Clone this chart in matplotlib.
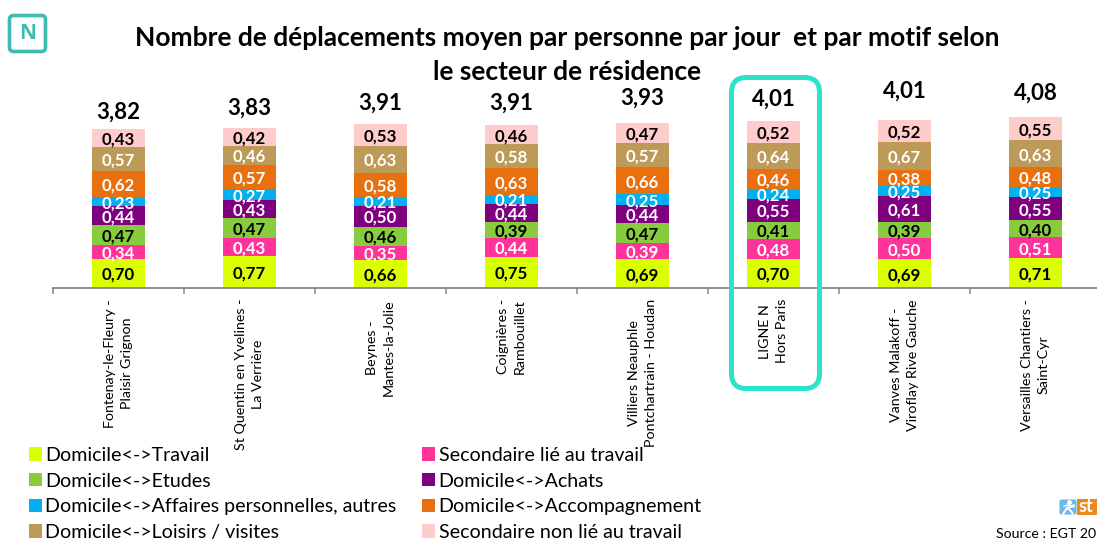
import matplotlib
matplotlib.use("Agg")
import matplotlib.pyplot as plt
import numpy as np
from matplotlib.patches import FancyBboxPatch, Rectangle

plt.rcParams['font.family'] = ['Lato', 'DejaVu Sans']

sectors = ["Fontenay-le-Fleury -\nPlaisir Grignon", "St Quentin en Yvelines -\nLa Verrière",
           "Beynes -\nMantes-la-Jolie", "Coignières -\nRambouillet",
           "Villiers Neauphle\nPontchartrain - Houdan", "LIGNE N\nHors Paris",
           "Vanves Malakoff -\nViroflay Rive Gauche", "Versailles Chantiers -\nSaint-Cyr"]
totals = [3.82, 3.83, 3.91, 3.91, 3.93, 4.01, 4.01, 4.08]
travail = [0.70, 0.77, 0.66, 0.75, 0.69, 0.70, 0.69, 0.71]
sec_travail = [0.34, 0.43, 0.35, 0.44, 0.39, 0.48, 0.50, 0.51]
etudes = [0.47, 0.47, 0.46, 0.39, 0.47, 0.41, 0.39, 0.40]
achats = [0.44, 0.43, 0.50, 0.44, 0.44, 0.55, 0.61, 0.55]
affaires = [0.23, 0.27, 0.21, 0.21, 0.25, 0.24, 0.25, 0.25]
accomp = [0.62, 0.57, 0.58, 0.63, 0.66, 0.46, 0.38, 0.48]
loisirs = [0.57, 0.46, 0.63, 0.58, 0.57, 0.64, 0.67, 0.63]
sec_non = [0.43, 0.42, 0.53, 0.46, 0.47, 0.52, 0.52, 0.55]

series = [
    ("Domicile<->Travail", travail, "#DAFF00", "black"),
    ("Secondaire lié au travail", sec_travail, "#FF3399", "white"),
    ("Domicile<->Etudes", etudes, "#86CC3C", "black"),
    ("Domicile<->Achats", achats, "#7F007F", "white"),
    ("Domicile<->Affaires personnelles, autres", affaires, "#00B0F0", "white"),
    ("Domicile<->Accompagnement", accomp, "#E8700F", "white"),
    ("Domicile<->Loisirs / visites", loisirs, "#BD9A57", "white"),
    ("Secondaire non lié au travail", sec_non, "#FFCCCC", "black"),
]
# vertical gap between bar top and the total label, in data units
total_gaps = [0.45, 0.53, 0.55, 0.57, 0.65, 0.57, 0.74, 0.62]

W, H = 1097, 541
fig = plt.figure(figsize=(W / 100, H / 100), dpi=100)
base_px, left_px, step_px = 288, 53, 131
ax = fig.add_axes([left_px / W, 1 - base_px / H, step_px * len(sectors) / W, base_px / H])
ax.patch.set_alpha(0)
ppu = 41.8
ax.set_ylim(0, base_px / ppu)
ax.set_xlim(0, len(sectors))
x = np.arange(len(sectors)) + 0.5
bar_w = 53 / step_px

bottom = np.zeros(len(sectors))
handles = {}
for name, vals, col, tcol in series:
    vals = np.array(vals)
    b = ax.bar(x, vals, bar_w, bottom=bottom, color=col, label=name, linewidth=0)
    handles[name] = b
    for xi, bi, v in zip(x, bottom, vals):
        ax.text(xi, bi + v / 2, f"{v:.2f}".replace(".", ","), ha="center", va="center_baseline",
                color=tcol, fontsize=12.2, fontweight="bold")
    bottom += vals
for xi, top, g, t in zip(x, bottom, total_gaps, totals):
    ax.text(xi, top + g, f"{t:.2f}".replace(".", ","), ha="center", va="center_baseline",
            fontsize=16, fontweight="bold", color="black")

for s in ("top", "left", "right"):
    ax.spines[s].set_visible(False)
ax.spines["bottom"].set_color("#868686")
ax.spines["bottom"].set_linewidth(1.3)
ax.set_yticks([])
ax.set_xticks(np.arange(len(sectors) + 1))
ax.set_xticklabels([])
ax.tick_params(axis="x", which="major", length=4, width=1.1, color="#868686")
ax.set_xticks(x, sectors, minor=True)
ax.tick_params(axis="x", which="minor", length=0, pad=8)
for lab in ax.get_xticklabels(minor=True):
    lab.set(rotation=90, ha="center", va="top", multialignment="center", fontsize=10.3, linespacing=1.5)

order = ["Domicile<->Travail", "Domicile<->Etudes", "Domicile<->Affaires personnelles, autres",
         "Domicile<->Loisirs / visites", "Secondaire lié au travail", "Domicile<->Achats",
         "Domicile<->Accompagnement", "Secondaire non lié au travail"]
leg = fig.legend([handles[n] for n in order], order, ncol=2, frameon=False, fontsize=14.1,
                 loc="upper left", bbox_to_anchor=(29 / W, 1 - 447 / H), borderaxespad=0, borderpad=0,
                 handlelength=0.68, handleheight=0.68, handletextpad=0.16, labelspacing=0.44, columnspacing=1.3)
leg.set_zorder(5)

ov = fig.add_axes([0, 0, 1, 1], zorder=10)
ov.set_xlim(0, W)
ov.set_ylim(H, 0)
ov.axis("off")
ov.patch.set_alpha(0)

ov.text(567, 38, "Nombre de déplacements moyen par personne par jour  et par motif selon",
        ha="center", va="center", fontsize=19, fontweight="bold")
ov.text(567, 72, "le secteur de résidence", ha="center", va="center", fontsize=19, fontweight="bold")

ov.add_patch(FancyBboxPatch((731.5, 77.5), 88, 311, boxstyle="round,pad=0,rounding_size=15",
                            fill=False, ec="#2BE3CC", lw=3.6))
ov.add_patch(FancyBboxPatch((9.5, 15.5), 36, 36, boxstyle="round,pad=0,rounding_size=4",
                            fill=False, ec="#3DBDB0", lw=2.6))
ov.text(27.5, 33.5, "N", ha="center", va="center", fontsize=15, fontweight="bold",
        family="Open Sans", color="#3DBDB0")

ov.add_patch(FancyBboxPatch((1059.5, 499.5), 17, 15, boxstyle="round,pad=0,rounding_size=2", fc="#6CB8E8", ec="none"))
ov.add_patch(Rectangle((1077, 499), 20, 16, fc="#E98A1E", ec="none"))
ov.text(1079, 507, "st", ha="left", va="center", fontsize=13, fontweight="bold", color="white")
ov.plot([1063, 1067, 1071, 1074], [514, 508, 507, 505], color="white", lw=1.4, solid_capstyle="round")
ov.plot([1067, 1071, 1073], [508, 511, 514], color="white", lw=1.4, solid_capstyle="round")
ov.plot([1064, 1069, 1074], [506, 505, 507], color="white", lw=1.2, solid_capstyle="round")
ov.plot([1069], [502], marker="o", ms=2.5, color="white")
ov.text(996, 534, "Source : EGT 20", ha="left", va="center", fontsize=10.2)

fig.savefig("out.png", dpi=100)
